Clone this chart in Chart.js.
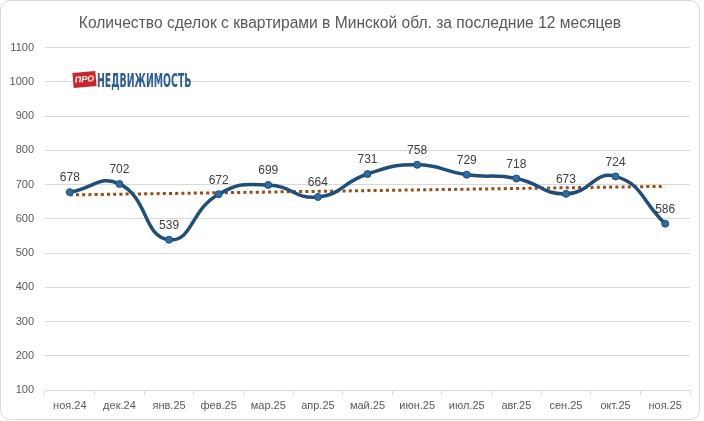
<!DOCTYPE html>
<html>
<head>
<meta charset="utf-8">
<script src="https://cdn.jsdelivr.net/npm/chart.js@4/dist/chart.umd.min.js"></script>
<style>
    body { margin: 0; background: #fff; }
    #frame {
        position: absolute; left: 0; top: 0;
        width: 700px; height: 420px;
        box-sizing: border-box;
        border: 1px solid #d9d9d9;
        border-radius: 10px;
    }
    #wrap { position: absolute; left: 0; top: 0; width: 704px; height: 421px; }
    #logo { position: absolute; left: 72px; top: 69px; height: 20px; white-space: nowrap; }
    #logo .pro {
        position: absolute; left: 1px; top: 3px;
        display: block;
        width: 23px; height: 15px;
        background: #c9252c;
        transform: rotate(-5deg);
        color: #fff;
        font: italic bold 9px "Liberation Sans", sans-serif;
        line-height: 15px; text-align: center;
    }
    #logo .name {
        position: absolute; left: 25px; top: 1px;
        display: block;
        color: #2b5d9b;
        font: bold 20px "Liberation Sans Narrow", "DejaVu Sans Condensed", sans-serif;
        line-height: 20px;
        transform-origin: left top;
        transform: scaleX(0.52);
    }
</style>
</head>
<body>
<div id="frame"></div>
<div id="wrap"><canvas id="myChart" width="704" height="421"></canvas></div>
<div id="logo"><span class="pro">ПРО</span><span class="name">НЕДВИЖИМОСТЬ</span></div>
<script>
const months = ["ноя.24", "дек.24", "янв.25", "фев.25", "мар.25", "апр.25", "май.25",
    "июн.25", "июл.25", "авг.25", "сен.25", "окт.25", "ноя.25"];
const deals = [678, 702, 539, 672, 699, 664, 731, 758, 729, 718, 673, 724, 586];
// trend line ends
const trend = [670, null, null, null, null, null, null, null, null, null, null, null, 695];
const yTicks = [100, 200, 300, 400, 500, 600, 700, 800, 900, 1000, 1100];

const valueLabels = {
    id: "valueLabels",
    afterDatasetsDraw(chart) {
        const ctx = chart.ctx;
        const meta = chart.getDatasetMeta(0);
        ctx.save();
        ctx.font = "12px 'Liberation Sans', Arial, sans-serif";
        ctx.fillStyle = "#404040";
        ctx.textAlign = "center";
        ctx.textBaseline = "bottom";
        meta.data.forEach((pt, i) => {
            ctx.fillText(deals[i], pt.x, pt.y - 8);
        });
        ctx.restore();
    }
};

const ctx = document.getElementById("myChart").getContext("2d");
new Chart(ctx, {
    type: "line",
    data: {
        labels: months,
        datasets: [{
            data: deals,
            borderColor: "#1f4e79",
            borderWidth: 3.5,
            tension: 0.5,
            pointRadius: 3.5,
            pointBackgroundColor: "#2e6da4",
            pointBorderColor: "#1f4e79",
            pointBorderWidth: 1,
            order: 0
        }, {
            data: trend,
            spanGaps: true,
            borderColor: "#9e4a12",
            borderWidth: 3,
            borderDash: [3, 3.2],
            pointRadius: 0,
            tension: 0,
            order: 1
        }]
    },
    options: {
        responsive: false,
        animation: false,
        layout: { padding: { left: 10, right: 14, top: 0, bottom: 0 } },
        plugins: {
            legend: { display: false },
            tooltip: { enabled: false },
            title: {
                display: true,
                text: "Количество сделок с квартирами в Минской обл. за последние 12 месяцев",
                color: "#595959",
                font: { family: "'Liberation Sans', Arial, sans-serif", size: 15.6, weight: "normal" },
                padding: { top: 14, bottom: 15 }
            }
        },
        scales: {
            x: {
                offset: true,
                grid: { offset: true, drawOnChartArea: false, drawTicks: true, tickLength: 5, color: "#d9d9d9" },
                border: { color: "#d9d9d9" },
                ticks: {
                    color: "#595959",
                    font: { family: "'Liberation Sans', Arial, sans-serif", size: 11 },
                    maxRotation: 0, autoSkip: false, padding: 4
                },
                afterFit(s) { s.height = 31; }
            },
            y: {
                min: 100,
                max: 1100,
                afterBuildTicks(s) { s.ticks = yTicks.map(v => ({ value: v })); },
                grid: { color: "#d9d9d9", drawTicks: false },
                border: { display: false },
                ticks: {
                    color: "#595959",
                    font: { family: "'Liberation Sans', Arial, sans-serif", size: 11 },
                    padding: 11,
                    callback: v => String(v)
                },
                afterFit(s) { s.width = 35; }
            }
        }
    },
    plugins: [valueLabels]
});
</script>
</body>
</html>
